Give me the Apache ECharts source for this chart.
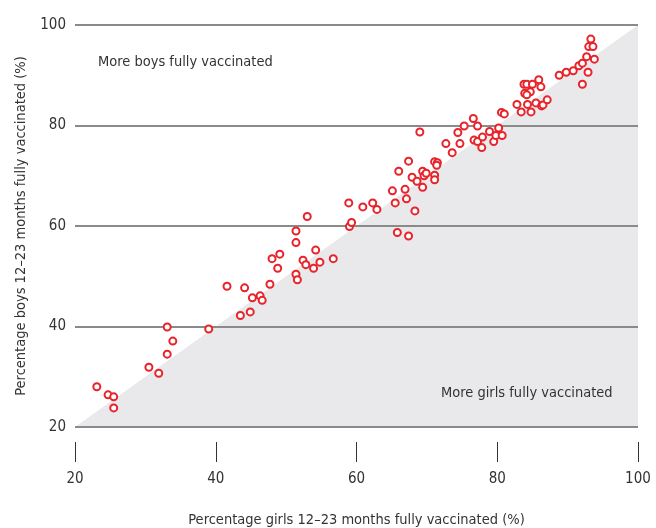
<!DOCTYPE html>
<html><head><meta charset="utf-8">
<script src="https://cdn.jsdelivr.net/npm/echarts@6/dist/echarts.min.js"></script>
<style>html,body{margin:0;padding:0;background:#fff;overflow:hidden}#c{width:656px;height:528px}</style>
</head><body><div id="c"></div>
<script>
// Data: [girls %, boys %]
const countries = [
[23.1,28.0],[24.7,26.4],[25.5,26.0],[25.5,23.8],[30.5,31.9],[31.9,30.7],[33.1,39.9],[33.1,34.5],[33.9,37.1],[39.0,39.5],
[41.6,48.0],[43.5,42.2],[44.1,47.7],[44.9,42.9],[45.2,45.7],[46.3,46.1],[46.6,45.2],[47.7,48.4],[48.0,53.5],[48.8,51.6],[49.1,54.4],
[51.4,59.0],[51.4,56.7],[51.4,50.4],[51.6,49.3],[52.4,53.2],[52.8,52.3],[53.0,61.9],[53.9,51.6],[54.2,55.2],[54.8,52.8],[56.7,53.5],
[58.9,64.6],[59.0,59.9],[59.3,60.7],[60.9,63.8],[62.3,64.6],[62.9,63.3],
[65.1,67.0],[65.5,64.6],[65.8,58.7],[66.0,70.9],[66.9,67.3],[67.1,65.4],[67.4,72.9],[67.4,58.0],[67.9,69.7],[68.3,63.0],[68.6,68.9],
[69.0,78.7],[69.4,70.9],[69.4,67.7],[69.6,70.0],[69.9,70.5],[71.1,72.8],[71.5,72.6],[71.4,72.1],[71.1,70.1],[71.1,69.2],
[72.7,76.4],[73.6,74.6],[74.4,78.6],[74.7,76.4],[75.3,79.9],[76.6,81.4],[76.7,77.1],[77.2,79.9],[77.2,76.8],[77.9,77.7],[77.8,75.6],
[78.9,78.8],[79.5,76.8],[79.8,78.0],[80.2,79.5],[80.7,78.0],[80.6,82.6],[81.0,82.3],[82.8,84.2],[83.4,82.7],[84.8,82.7],[84.3,84.2],
[85.5,84.5],[86.3,83.9],[86.5,84.1],[87.1,85.1],[83.9,86.4],[84.7,86.7],[84.2,86.1],[83.8,88.2],[84.2,88.2],[85.0,88.2],[85.9,89.1],[86.2,87.7],
[88.8,90.0],[89.8,90.6],[90.8,90.9],[91.6,91.9],[92.1,92.4],[92.1,88.2],[92.9,90.6],[92.7,93.7],[93.8,93.2],[93.0,95.7],[93.6,95.7],[93.3,97.2]
];
const diagonal = [[20,20],[100,100]];
const axisMin = 20, axisMax = 100, axisStep = 20;
const xTitle = 'Percentage girls 12–23 months fully vaccinated (%)';
const yTitle = 'Percentage boys 12–23 months fully vaccinated (%)';
const boysLabel = 'More boys fully vaccinated';
const girlsLabel = 'More girls fully vaccinated';

const FONT = '"DejaVu Sans Condensed","Liberation Sans Narrow",sans-serif';
const chart = echarts.init(document.getElementById('c'), null, {renderer:'canvas'});
chart.setOption({
  animation:false,
  textStyle:{fontFamily:FONT},
  grid:{left:75,right:18,top:25,bottom:101,containLabel:false,outerBoundsMode:'none'},
  xAxis:{type:'value',min:axisMin,max:axisMax,interval:axisStep,offset:15,
    axisLine:{show:false},
    axisTick:{show:true,length:20,lineStyle:{color:'#333',width:1}},
    axisLabel:{margin:30,fontSize:15,color:'#333',fontFamily:FONT},
    splitLine:{show:false},
    name:xTitle,nameLocation:'middle',nameGap:71,
    nameTextStyle:{fontSize:14.5,color:'#333',fontFamily:FONT}},
  yAxis:{type:'value',min:axisMin,max:axisMax,interval:axisStep,z:3,
    axisLine:{show:false},axisTick:{show:false},
    axisLabel:{margin:9,fontSize:15,color:'#333',fontFamily:FONT},
    splitLine:{show:true,lineStyle:{color:'#8a8a8a',width:2}},
    name:yTitle,nameLocation:'middle',nameGap:46,nameRotate:90,
    nameTextStyle:{fontSize:14.5,color:'#333',fontFamily:FONT}},
  series:[
    {type:'line',data:diagonal,symbol:'none',z:1,silent:true,
      lineStyle:{width:0,opacity:0},
      areaStyle:{color:'#e9e9eb',opacity:1,origin:'start'}},
    {type:'scatter',data:countries,symbol:'circle',symbolSize:7,z:5,
      itemStyle:{color:'#ffffff',borderColor:'#e8232a',borderWidth:2,opacity:1}}
  ],
  graphic:[
    {type:'text',left:98,top:55,z:10,style:{text:boysLabel,fontSize:14.5,fill:'#333',fontFamily:FONT}},
    {type:'text',left:441,top:386,z:10,style:{text:girlsLabel,fontSize:14.5,fill:'#333',fontFamily:FONT}}
  ]
});
</script></body></html>
